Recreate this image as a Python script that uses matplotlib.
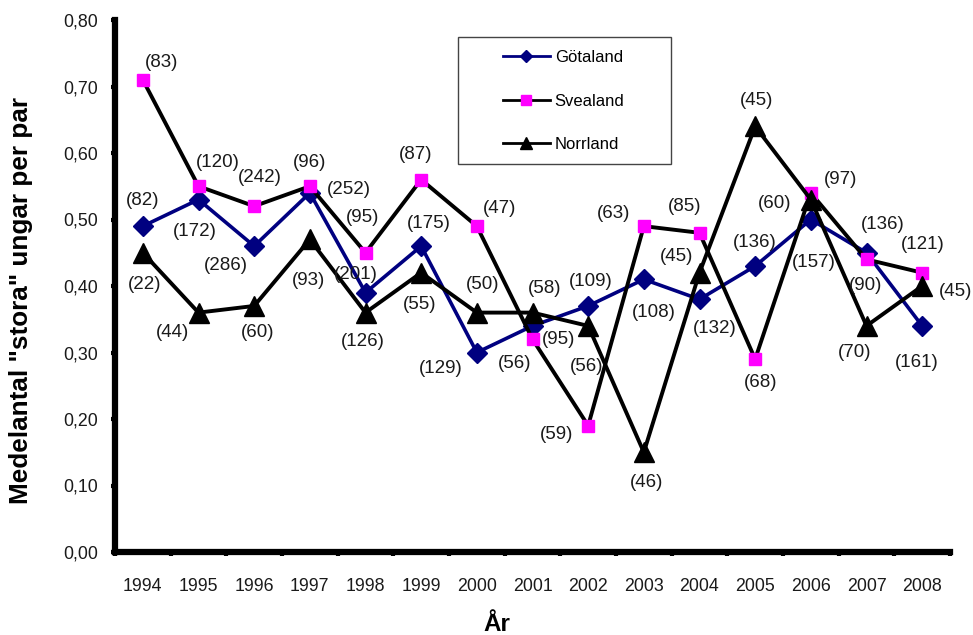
import matplotlib.pyplot as plt
from matplotlib.lines import Line2D
from matplotlib.patches import Rectangle

plt.rcParams['font.family'] = ['Liberation Sans', 'DejaVu Sans']

# Data
years = ['1994', '1995', '1996', '1997', '1998', '1999', '2000', '2001',
         '2002', '2003', '2004', '2005', '2006', '2007', '2008']
gotaland = [0.49, 0.53, 0.46, 0.54, 0.39, 0.46, 0.30, 0.34, 0.37, 0.41, 0.38, 0.43, 0.50, 0.45, 0.34]
svealand = [0.71, 0.55, 0.52, 0.55, 0.45, 0.56, 0.49, 0.32, 0.19, 0.49, 0.48, 0.29, 0.54, 0.44, 0.42]
norrland = [0.45, 0.36, 0.37, 0.47, 0.36, 0.42, 0.36, 0.36, 0.34, 0.15, 0.42, 0.64, 0.53, 0.34, 0.40]
n_gotaland = [82, 172, 286, 252, 201, 175, 129, 95, 109, 108, 132, 136, 157, 136, 161]
n_svealand = [83, 120, 242, 96, 95, 87, 47, 56, 59, 63, 85, 68, 97, 90, 121]
n_norrland = [22, 44, 60, 93, 126, 55, 50, 58, 56, 46, 45, 45, 60, 70, 45]
yticks = [0.0, 0.1, 0.2, 0.3, 0.4, 0.5, 0.6, 0.7, 0.8]
ytick_labels = ['0,00', '0,10', '0,20', '0,30', '0,40', '0,50', '0,60', '0,70', '0,80']

# label offsets (pixels)
off_g = [(0, 26), (-4, -32), (-28, -19), (39, 3), (-10, 18), (8, 23), (-36, -16), (26, -14),
         (3, 24), (10, -33), (15, -29), (0, 24), (3, -43), (16, 28), (-5, -37)]
off_s = [(19, 17), (19, 24), (6, 29), (0, 24), (-3, 35), (-6, 25), (23, 18), (-18, -24),
         (-32, -9), (-30, 13), (-15, 26), (5, -23), (30, 13), (-1, -26), (1, 28)]
off_n = [(2, -32), (-26, -20), (3, -27), (-1, -41), (-3, -29), (-2, -32), (6, 28), (12, 24),
         (-2, -41), (3, -30), (-23, 16), (1, 26), (-36, -4), (-12, -27), (33, -6)]

fig = plt.figure(figsize=(9.73, 6.35), dpi=100)
ax = fig.add_axes([115 / 973, 83 / 635, 835 / 973, 532 / 635])

x = list(range(len(years)))
ax.plot(x, gotaland, color='#000080', lw=2.6, marker='D', ms=10, mec='#000080', mfc='#000080')
ax.plot(x, svealand, color='black', lw=2.8, marker='s', ms=8.5, mec='#FF00FF', mfc='#FF00FF')
ax.plot(x, norrland, color='black', lw=2.8, marker='^', ms=14, mec='black', mfc='black')

for vals, ns, offs in [(gotaland, n_gotaland, off_g), (svealand, n_svealand, off_s),
                       (norrland, n_norrland, off_n)]:
    for i, (v, n) in enumerate(zip(vals, ns)):
        ax.annotate(f'({n})', (i, v), xytext=offs[i], textcoords='offset pixels',
                    ha='center', va='center', fontsize=13.5, color='#1a1a1a')

ax.set_xlim(-0.5, len(years) - 0.5)
ax.set_ylim(0, 0.8)
ax.set_xticks(x)
ax.set_xticklabels(years)
ax.set_xticks([i - 0.5 for i in range(len(years) + 1)], minor=True)
ax.set_yticks(yticks)
ax.set_yticklabels(ytick_labels)
ax.tick_params(axis='x', which='major', length=0, pad=19, labelsize=12.8, labelcolor='#1a1a1a')
ax.tick_params(axis='x', which='minor', length=3, width=3, direction='out')
ax.tick_params(axis='y', length=3, width=3, pad=9, labelsize=12.8, labelcolor='#1a1a1a')

for s in ['top', 'right']:
    ax.spines[s].set_visible(False)
for s in ['left', 'bottom']:
    ax.spines[s].set_linewidth(4.5)

ax.set_ylabel('Medelantal "stora" ungar per par', fontsize=18.8, fontweight='bold')
ax.yaxis.set_label_coords(33 / 973, (635 - 300) / 635, transform=fig.transFigure)
ax.set_xlabel('År', fontsize=17.5, fontweight='bold')
ax.xaxis.set_label_coords(497 / 973, (635 - 613) / 635, transform=fig.transFigure)

handles = [
    Line2D([], [], color='#000080', lw=2, marker='D', ms=6, mfc='#000080', mec='#000080'),
    Line2D([], [], color='black', lw=2, marker='s', ms=7.5, mfc='#FF00FF', mec='#FF00FF'),
    Line2D([], [], color='black', lw=2, marker='^', ms=8, mfc='black', mec='black'),
]
fig.legend(handles, ['Götaland', 'Svealand', 'Norrland'], loc='center left',
           bbox_to_anchor=(503 / 973, (635 - 101) / 635), frameon=False, fontsize=12,
           handlelength=2.8, handletextpad=0.3, labelspacing=1.72, borderpad=0,
           borderaxespad=0, numpoints=1)
fig.patches.append(Rectangle((458 / 973, (635 - 164) / 635), 213 / 973, 127 / 635,
                             transform=fig.transFigure, fill=False, edgecolor='#444444', lw=1))

fig.savefig('out.png', dpi=100)
